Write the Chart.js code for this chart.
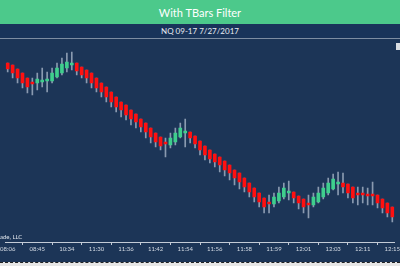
<!DOCTYPE html>
<html>
<head>
<meta charset="utf-8">
<script src="https://cdn.jsdelivr.net/npm/chart.js@4"></script>
<style>
  html, body { margin: 0; padding: 0; }
  body { width: 400px; height: 266px; background: #1c3557; position: relative; overflow: hidden; font-family: Lato, 'Open Sans', sans-serif; }
  #header { position: absolute; left: 0; top: 0; width: 400px; height: 24px; background: #4cc98b; color: #fff; font-size: 11px; text-align: center; line-height: 25px; }
  #sub { position: absolute; left: 0; top: 24px; width: 400px; height: 14px; background: #19345a; color: #e8ecf2; font-size: 8px; text-align: center; line-height: 15px; border-bottom: 1px solid #7d8da2; }
  #plot { position: absolute; left: 0; top: 39px; }
  #copy { position: absolute; left: 0; top: 233px; color: #dfe5ec; font-size: 6px; }
  #icon { position: absolute; left: 396px; top: 43px; width: 4px; height: 7px; background: #d9dde2; }
  #foot { position: absolute; left: 0; top: 262px; width: 400px; height: 4px; background: #e6e6e6; border-top: 1px dashed #222; box-sizing: border-box; }
</style>
</head>
<body>
<div id="header">With TBars Filter</div>
<div id="sub">NQ 09-17 7/27/2017</div>
<canvas id="plot" width="400" height="223"></canvas>
<div id="copy">ade, LLC</div>
<div id="icon"></div>
<div id="foot"></div>
<script>
// ======================= DATA =======================

// time labels, one every 6 bars
const tickLabels = ['08:06', '08:45', '10:34', '11:30', '11:36', '11:42', '11:54',
  '11:56', '11:58', '11:59', '12:01', '12:03', '12:11', '12:15'];

const opens = [
  5988.5, 5987.5, 5985.5, 5983.5, 5981, 5979, 5978.5, 5979, 5979.5, 5979.5,
  5981.5, 5983.5, 5986, 5987.5, 5988.5, 5986.5, 5985, 5983.5, 5981, 5978.5,
  5976.5, 5974, 5971.5, 5969, 5967.5, 5965, 5963, 5960.5, 5958.5, 5956,
  5953.5, 5951.5, 5949, 5947.5, 5949, 5951.5, 5953.5, 5954, 5952, 5949.5,
  5947, 5945, 5943, 5941.5, 5939.5, 5937.5, 5935, 5933.5, 5931, 5928.5,
  5926, 5923.5, 5921, 5919, 5918, 5919.5, 5921.5, 5923.5, 5924, 5922,
  5920.5, 5918.5, 5917.5, 5919, 5921.5, 5923.5, 5925.5, 5928, 5928.5, 5928,
  5926.5, 5923.5, 5923.5, 5923, 5923, 5922.5, 5920.5, 5918.5, 5916.5
];

const closes = [
  5985.5, 5983.5, 5981, 5978.5, 5976.5, 5978, 5980.5, 5980, 5980.5, 5983.5,
  5986, 5988, 5989, 5988.5, 5984.5, 5982.5, 5981, 5978.5, 5976, 5974,
  5971.5, 5969, 5966.5, 5965, 5962.5, 5960.5, 5959, 5956.5, 5954, 5951.5,
  5949, 5947, 5948, 5951, 5953.5, 5956, 5954.5, 5951, 5948, 5945,
  5942.5, 5940.5, 5939, 5937.5, 5935, 5933.5, 5931, 5929, 5926.5, 5924,
  5921.5, 5919, 5916.5, 5918, 5921.5, 5923.5, 5926, 5924.5, 5921, 5918.5,
  5916.5, 5917.5, 5921.5, 5923.5, 5926, 5928.5, 5930.5, 5929, 5926.5, 5923.5,
  5921, 5922.5, 5922.5, 5922, 5922, 5918.5, 5916, 5913.5, 5911.5
];

const highs = [
  5988.5, 5987.5, 5985.5, 5983.5, 5981, 5981, 5983.5, 5986, 5984, 5986,
  5988.5, 5991, 5993.5, 5994, 5988.5, 5986.5, 5985, 5983.5, 5981, 5978.5,
  5976.5, 5974, 5971.5, 5969, 5967.5, 5965, 5963, 5960.5, 5958.5, 5956,
  5953.5, 5951.5, 5951, 5953.5, 5956, 5958.5, 5960.5, 5954, 5952, 5949.5,
  5947, 5945, 5943, 5941.5, 5939.5, 5937.5, 5935, 5933.5, 5931, 5928.5,
  5926, 5923.5, 5921, 5922.5, 5923.5, 5926.5, 5928.5, 5929.5, 5924, 5922,
  5920.5, 5922.5, 5923.5, 5926.5, 5928.5, 5931, 5933, 5934, 5933.5, 5928,
  5926.5, 5926.5, 5926.5, 5926, 5929, 5922.5, 5920.5, 5918.5, 5916.5
];

const lows = [
  5984, 5981, 5978.5, 5976, 5973.5, 5972.5, 5975, 5976.5, 5974, 5978.5,
  5981, 5982.5, 5984, 5985, 5982.5, 5981, 5978.5, 5976, 5974, 5971.5,
  5969, 5966.5, 5964, 5961.5, 5960, 5957.5, 5956, 5954, 5951, 5948.5,
  5946.5, 5945, 5941.5, 5946, 5947.5, 5951, 5946.5, 5948.5, 5946, 5942.5,
  5940, 5938.5, 5936.5, 5934, 5932, 5930, 5927.5, 5925.5, 5924, 5921.5,
  5919, 5916.5, 5913.5, 5913.5, 5916.5, 5918.5, 5920.5, 5920, 5918.5, 5915.5,
  5913.5, 5911, 5916.5, 5918.5, 5920.5, 5922.5, 5925, 5922.5, 5923.5, 5921,
  5918.5, 5917.5, 5918.5, 5917.5, 5917.5, 5916, 5913.5, 5911.5, 5909
];

// ======================= CHART =======================

const colors = {
  up: '#3fce8d',
  down: '#ff1010',
  wick: '#8a9ab0',
  axis: '#c3cbd6'
};

const labels = opens.map((o, i) => (i % 6 === 0 ? tickLabels[i / 6] : ''));
const bodyColors = opens.map((o, i) => (closes[i] >= o ? colors.up : colors.down));

const ctx = document.getElementById('plot');

new Chart(ctx, {
  type: 'bar',
  data: {
    labels: labels,
    datasets: [
      {
        label: 'Body',
        data: opens.map((o, i) => [o, closes[i]]),
        backgroundColor: bodyColors,
        barThickness: 3,
        borderWidth: 0,
        borderSkipped: false,
        grouped: false,
        order: 1
      },
      {
        label: 'Wick',
        data: lows.map((l, i) => [l, highs[i]]),
        backgroundColor: colors.wick,
        barThickness: 1,
        borderWidth: 0,
        borderSkipped: false,
        grouped: false,
        order: 2
      }
    ]
  },
  options: {
    responsive: false,
    animation: false,
    layout: { padding: { top: 1, left: 1, right: 1, bottom: 0 } },
    plugins: {
      legend: { display: false },
      tooltip: { enabled: false }
    },
    scales: {
      y: {
        display: false,
        min: 5899,
        max: 6000
      },
      x: {
        afterFit: (scale) => { scale.height = 20; },
        grid: {
          drawOnChartArea: false,
          drawTicks: true,
          tickLength: 3,
          color: colors.axis
        },
        border: { color: colors.axis, width: 1 },
        ticks: {
          autoSkip: false,
          maxRotation: 0,
          padding: 0,
          color: '#d3dae3',
          font: { family: 'Lato', size: 6 },
          callback: function (value, index) {
            return index % 6 === 0 ? labels[index] : null;
          }
        }
      }
    }
  }
});
</script>
</body>
</html>
